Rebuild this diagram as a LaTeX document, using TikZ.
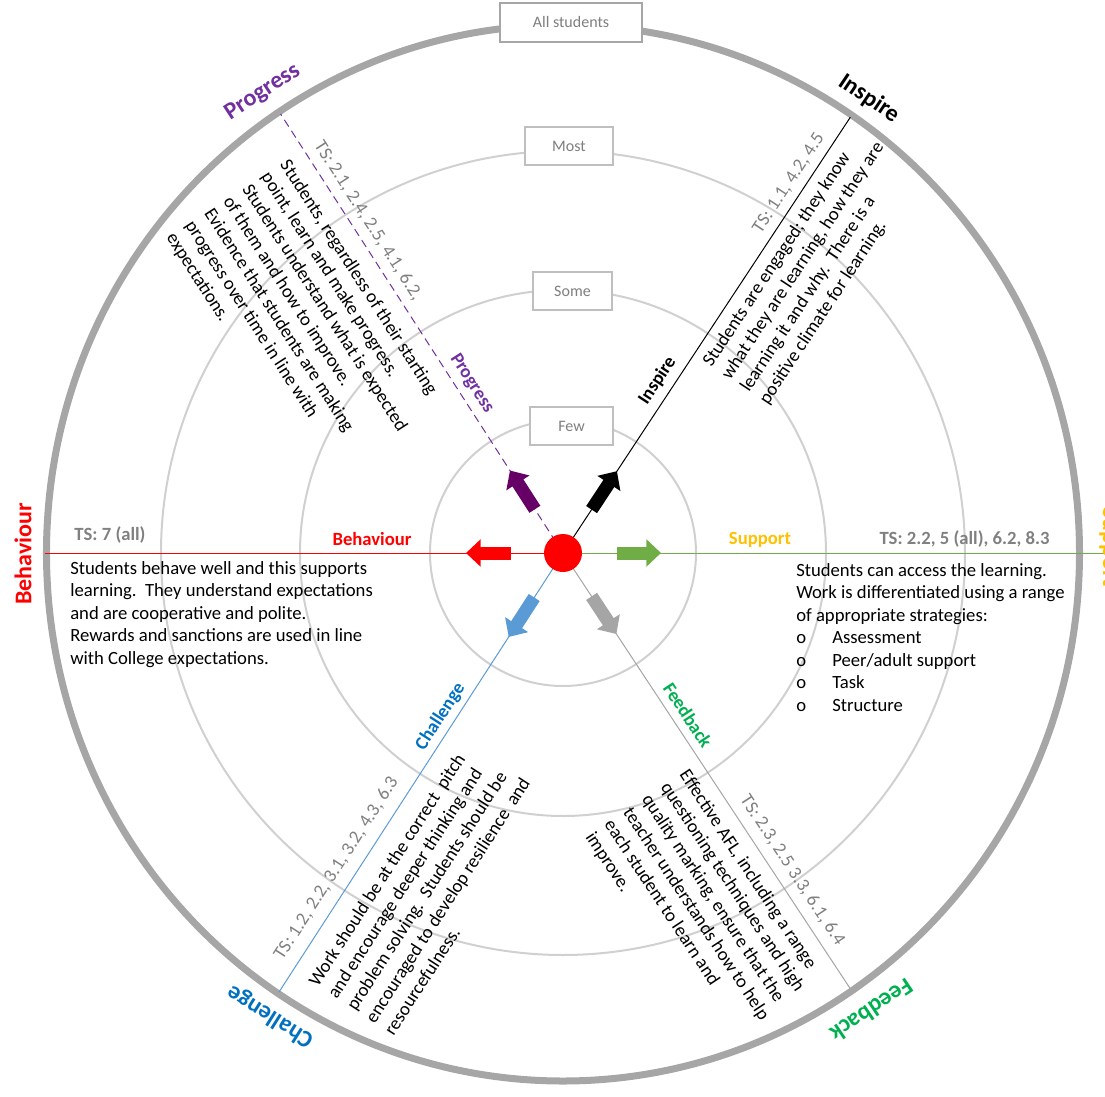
\documentclass[tikz,border=0pt]{standalone}
\usepackage{fontspec}
\setmainfont{Carlito}
\usetikzlibrary{arrows.meta}

\definecolor{ringgrey}{HTML}{A6A6A6}
\definecolor{circlegrey}{HTML}{D0D0D0}
\definecolor{boxgrey}{HTML}{BFBFBF}
\definecolor{labelgrey}{HTML}{7F7F7F}
\definecolor{tsgrey}{HTML}{808080}
\definecolor{progresspurple}{HTML}{7030A0}
\definecolor{progressarrow}{HTML}{660066}
\definecolor{behaviourred}{HTML}{FF0000}
\definecolor{supportyellow}{HTML}{FFC000}
\definecolor{supportgreen}{HTML}{70AD47}
\definecolor{challengeblue}{HTML}{0070C0}
\definecolor{challengeline}{HTML}{5B9BD5}
\definecolor{feedbackgreen}{HTML}{00B050}
\definecolor{feedbackgrey}{HTML}{A5A5A5}

\tikzset{
        levelcircle/.style={draw=circlegrey, line width=1.5pt},
        levelbox/.style={draw=boxgrey, line width=1.5pt, fill=white, text=labelgrey,
                font=\fontsize{12}{14}\selectfont, minimum height=28.5pt, inner sep=0pt},
        spoke/.style={line width=0.75pt},
        blockarrow/.style={line width=9.75pt, -{Triangle[length=11pt, width=20pt]}},
        bodytext/.style={align=left, inner sep=0pt, font=\fontsize{14}{16.9}\selectfont},
        tslabel/.style={text=tsgrey, inner sep=0pt, font=\fontsize{14}{16}\selectfont},
        tsbold/.style={text=tsgrey, inner sep=0pt, font=\bfseries\fontsize{14}{16}\selectfont},
        spokelabel/.style={inner sep=0pt, font=\bfseries\fontsize{14}{16}\selectfont},
        outerlabel/.style={inner sep=0pt, font=\bfseries\fontsize{18}{21}\selectfont}
}

\begin{document}
\begin{tikzpicture}[x=0.75pt, y=0.75pt]
        \useasboundingbox (-563,-543) rectangle (542,553);
        \coordinate (ctr) at (0,0);
        \coordinate (inspireEnd) at (56.6:522);
        \coordinate (progressEnd) at (122.75:522);
        \coordinate (challengeEnd) at (237.1:523);
        \coordinate (feedbackEnd) at (-56.6:523);
        \coordinate (behaviourEnd) at (-518,0);
        \coordinate (supportEnd) at (542,0);

        \draw[levelcircle] (ctr) circle (133);
        \draw[levelcircle] (ctr) circle (263);
        \draw[levelcircle] (ctr) circle (402);
        \draw[ringgrey, line width=5.25pt] (ctr) ellipse (516.5 and 528);

        \draw[spoke, black] (ctr) -- (inspireEnd);
        \draw[spoke, progresspurple, dash pattern=on 6pt off 3.75pt] (ctr) -- (progressEnd);
        \draw[spoke, challengeline] (ctr) -- (challengeEnd);
        \draw[spoke, feedbackgrey] (ctr) -- (feedbackEnd);
        \draw[spoke, behaviourred] (ctr) -- (behaviourEnd);
        \draw[spoke, supportgreen] (ctr) -- (supportEnd);

        \node[levelbox, draw=ringgrey, minimum width=106.5pt, minimum height=29pt] (allBox) at (8,530.5) {All students};
        \node[levelbox, minimum width=66pt] (mostBox) at (6,407) {Most};
        \node[levelbox, minimum width=59pt] (someBox) at (9.5,262) {Some};
        \node[levelbox, minimum width=62pt] (fewBox) at (8.5,127) {Few};

        \draw[blockarrow, black] (56.6:52) -- (56.6:98);
        \draw[blockarrow, progressarrow] (122.75:52) -- (122.75:98);
        \draw[blockarrow, challengeline] (237.1:53) -- (237.1:100);
        \draw[blockarrow, feedbackgrey] (-56.6:52) -- (-56.6:97);
        \draw[blockarrow, behaviourred] (180:52) -- (180:97);
        \draw[blockarrow, supportgreen] (0:54) -- (0:98);
        \fill[behaviourred] (ctr) circle (19);

        \node[spokelabel, text=behaviourred] (behaviourLbl) at (-191,14) {Behaviour};
        \node[spokelabel, text=supportyellow] (supportLbl) at (197,13) {Support};
        \node[tsbold] (behaviourTS) at (-453,18.5) {TS: 7 (all)};
        \node[tsbold] (supportTS) at (401.5,14.5) {TS: 2.2, 5 (all), 6.2, 8.3};
        \node[bodytext, anchor=north west] (behaviourText) at (-493,-8) {Students behave well and this supports\\
                learning.\ \ They understand expectations\\
                and are cooperative and polite.\\
                Rewards and sanctions are used in line\\
                with College expectations.};
        \node[bodytext, anchor=north west] (supportText) at (233,-10) {Students can access the learning.\\
                Work is differentiated using a range\\
                of appropriate strategies:\\
                \makebox[27pt][l]{o}Assessment\\
                \makebox[27pt][l]{o}Peer/adult support\\
                \makebox[27pt][l]{o}Task\\
                \makebox[27pt][l]{o}Structure};

        \begin{scope}[rotate=56.6]
                \node[spokelabel, rotate=56.6] (inspireLbl) at (196,16) {Inspire};
                \node[tslabel, rotate=56.6] (inspireTS) at (433,15) {TS: 1.1, 4.2, 4.5};
                \node[bodytext, rotate=56.6, anchor=north west] (inspireText) at (236,-9) {Students are engaged; they know\\
                        what they are learning, how they are\\
                        learning it and why.\ \ There is a\\
                        positive climate for learning.};
        \end{scope}

        \begin{scope}[rotate=-57.25]
                \node[spokelabel, text=progresspurple, rotate=-57.25] (progressLbl) at (-192,15) {Progress};
                \node[tslabel, rotate=-57.25] (progressTS) at (-385,16) {TS: 2.1, 2.4, 2.5, 4.1, 6.2,};
                \node[bodytext, rotate=-57.25, anchor=north west] (progressText) at (-480,-15) {Students, regardless of their starting\\
                        point, learn and make progress.\\
                        Students understand what is expected\\
                        of them and how to improve.\\
                        Evidence that students are making\\
                        progress over time in line with\\
                        expectations.};
        \end{scope}

        \begin{scope}[rotate=57.1]
                \node[spokelabel, text=challengeblue, rotate=57.1] (challengeLbl) at (-204,14) {Challenge};
                \node[tslabel, rotate=57.1] (challengeTS) at (-388,19) {TS: 1.2, 2.2, 3.1, 3.2, 4.3, 6.3};
                \node[bodytext, rotate=57.1, anchor=north west] (challengeText) at (-498,-17) {Work should be at the correct\ \ pitch\\
                        and encourage deeper thinking and\\
                        problem solving.\ \ Students should be\\
                        encouraged to develop resilience\ \ and\\
                        resourcefulness.};
        \end{scope}

        \begin{scope}[rotate=-56.6]
                \node[spokelabel, text=feedbackgreen, rotate=-56.6] (feedbackLbl) at (204,15) {Feedback};
                \node[tslabel, rotate=-56.6] (feedbackTS) at (391,17) {TS: 2.3, 2.5 3.3, 6.1, 6.4};
                \node[bodytext, rotate=-56.6, anchor=north west] (feedbackText) at (249,-12) {Effective AFL, including a range\\
                        questioning techniques and high\\
                        quality marking, ensure that the\\
                        teacher understands how to help\\
                        each student to learn and\\
                        improve.};
        \end{scope}

        \node[outerlabel, text=progresspurple, rotate=33.1] (progressOuter) at (123.1:550) {Progress};
        \node[outerlabel, rotate=-34] (inspireOuter) at (56:548) {Inspire};
        \node[outerlabel, text=challengeblue, rotate=147.7] (challengeOuter) at (237.7:548) {Challenge};
        \node[outerlabel, text=feedbackgreen, rotate=-146] (feedbackOuter) at (-56:552) {Feedback};
        \node[outerlabel, text=behaviourred, rotate=90] (behaviourOuter) at (-540,-1) {Behaviour};
        \node[outerlabel, text=supportyellow, rotate=-90] (supportOuter) at (546,6) {Support};
\end{tikzpicture}
\end{document}
